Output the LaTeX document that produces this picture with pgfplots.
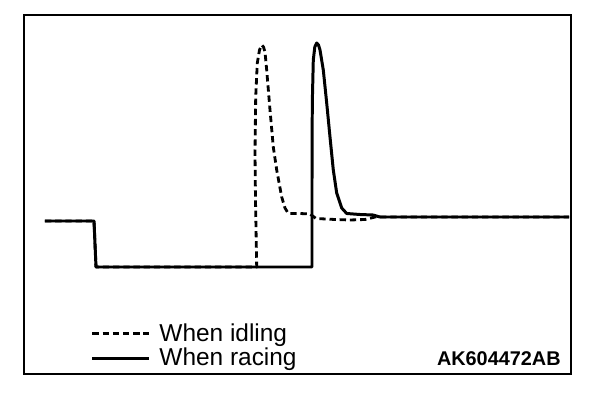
\documentclass[border=0pt]{standalone}
\usepackage{fontspec}
\setmainfont{Liberation Sans}
\usepackage{pgfplots}
\pgfplotsset{compat=1.18}
\begin{document}
\begin{tikzpicture}
\begin{axis}[
  scale only axis,
  width=10.94cm, height=7.18cm,
  xmin=24, xmax=571, ymin=15, ymax=374,
  y dir=reverse,
  xtick=\empty, ytick=\empty,
  axis line style={line width=1.0pt},
  clip=false,
  legend style={at={(axis cs:91,320)}, anchor=north west, draw=none, fill=none,
    inner sep=0pt, outer sep=0pt, font=\fontsize{13.9}{15}\selectfont,
    cells={anchor=west}, row sep=-1.5pt,
    /tikz/every odd column/.append style={column sep=0.1cm}},
  legend image code/.code={\draw[#1] (0cm,0cm) -- (1.14cm,0cm);},
]
\addplot[line width=1.6pt, line join=round, dash pattern=on 3.6pt off 2.2pt] coordinates {
(45,221) (94,221) (96,267) (256.7,267) (255.5,200) (255,153) (255.7,97) (257.3,63) (259.5,50) (261.7,45) (263.5,47) (265,52) (266.7,70) (270,110) (273.3,147) (276.7,170) (281.7,197) (285,208) (288.3,213.5) (300,213.5) (310,214) (316,218.5) (335,219.5) (350,220) (365,219.5) (375,217) (569,217)
};
\addlegendentry{When idling}
\addplot[line width=1.7pt, line join=round] coordinates {
(45,221) (94,221) (96,267) (312,267) (312,180) (312.3,103) (313.3,60) (314.8,47) (316.7,43) (318.5,45) (320,50) (323.3,70) (326.7,103) (330,137) (333.3,170) (336.7,193) (341.7,208) (346.7,213.5) (360,214.5) (373,215) (380,217) (569,217)
};
\addlegendentry{When racing}
\node[font=\bfseries\fontsize{11.3}{13}\selectfont, anchor=base east, inner sep=0pt] at (axis cs:561,366) {AK604472AB};
\path (axis cs:0,0) rectangle (axis cs:608,394);
\end{axis}
\end{tikzpicture}
\end{document}
